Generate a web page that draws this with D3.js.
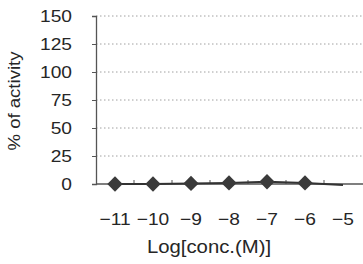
<!DOCTYPE html>
<html>
<head>
<meta charset="utf-8">
<script src="https://cdn.jsdelivr.net/npm/d3@7"></script>
<style>
  body { margin: 0; background: #fff; }
  svg text { font-family: Arial, "Liberation Sans", sans-serif; fill: #262626; }
</style>
</head>
<body>
<svg id="chart" width="363" height="264"></svg>
<script>
// --- datos ---
const concLabels = ["-11", "-10", "-9", "-8", "-7", "-6", "-5"];
const activity = [0, 0, 0.5, 1, 2, 1, -1];
const showMarker = [true, true, true, true, true, true, false];
const yTicks = [0, 25, 50, 75, 100, 125, 150];

const svg = d3.select("#chart");
const stretch = 1.13;

const x = d3.scaleBand()
    .domain(concLabels)
    .range([96, 362]);

const y = d3.scaleLinear()
    .domain([0, 150])
    .range([184, 16]);

// líneas de rejilla punteadas
svg.append("g")
    .selectAll("line")
    .data(yTicks.filter(d => d > 0))
    .join("line")
    .attr("x1", 96)
    .attr("x2", 363)
    .attr("y1", d => y(d))
    .attr("y2", d => y(d))
    .attr("stroke", "#a0a0a0")
    .attr("stroke-width", 1)
    .attr("stroke-dasharray", "1.5,2.5");

// eje Y
const yAxis = svg.append("g")
    .attr("transform", "translate(96,0)")
    .call(d3.axisLeft(y).tickValues(yTicks).tickSize(4).tickFormat(""));
yAxis.select(".domain").attr("stroke", "#555").attr("stroke-width", 1.3);
yAxis.selectAll(".tick line").attr("stroke", "#555");

svg.append("g")
    .selectAll("text")
    .data(yTicks)
    .join("text")
    .attr("transform", d => `translate(72,${y(d)}) scale(${stretch},1)`)
    .attr("dy", "0.36em")
    .attr("text-anchor", "end")
    .style("font-size", "17px")
    .text(d => d);

// eje X (marcas entre categorías)
svg.append("line")
    .attr("x1", 96).attr("x2", 363)
    .attr("y1", y(0)).attr("y2", y(0))
    .attr("stroke", "#555").attr("stroke-width", 1.3);

svg.append("g")
    .selectAll("line")
    .data(concLabels.slice(1))
    .join("line")
    .attr("x1", d => x(d))
    .attr("x2", d => x(d))
    .attr("y1", y(0))
    .attr("y2", y(0) - 4)
    .attr("stroke", "#555");

svg.append("g")
    .selectAll("text")
    .data(concLabels)
    .join("text")
    .attr("transform", d => `translate(${x(d) + x.bandwidth() / 2},225) scale(${stretch},1)`)
    .attr("text-anchor", "middle")
    .style("font-size", "17px")
    .text(d => d.replace("-", "\u2212"));

// serie
const cx = i => x(concLabels[i]) + x.bandwidth() / 2;
const line = d3.line()
    .x((d, i) => cx(i))
    .y(d => y(d));

svg.append("path")
    .datum(activity)
    .attr("d", line)
    .attr("fill", "none")
    .attr("stroke", "#333")
    .attr("stroke-width", 2);

svg.append("g")
    .selectAll("path")
    .data(activity.map((v, i) => ({v, i})).filter(d => showMarker[d.i]))
    .join("path")
    .attr("d", d3.symbol(d3.symbolDiamond2, 150))
    .attr("transform", d => `translate(${cx(d.i)},${y(d.v)})`)
    .attr("fill", "#3a3a3a");

// títulos de ejes
svg.append("text")
    .attr("transform", "translate(20,101) rotate(-90) scale(1.16,1)")
    .attr("text-anchor", "middle")
    .style("font-size", "16px")
    .text("% of activity");

svg.append("text")
    .attr("transform", `translate(209,253) scale(${stretch},1)`)
    .attr("text-anchor", "middle")
    .style("font-size", "18px")
    .text("Log[conc.(M)]");
</script>
</body>
</html>
